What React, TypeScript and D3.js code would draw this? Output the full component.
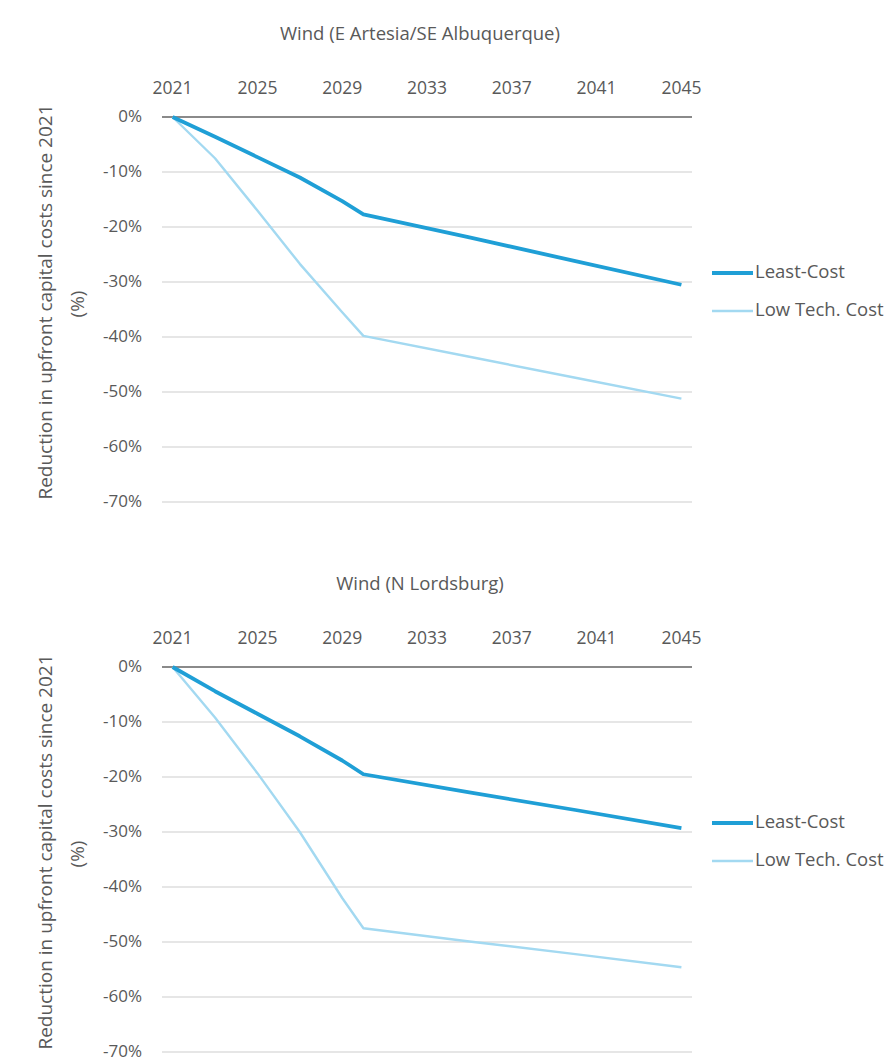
import React from 'react';
import * as d3 from 'd3';

const years = [2021, 2023, 2025, 2027, 2029, 2030, 2035, 2040, 2045];
const tickYears = [2021, 2025, 2029, 2033, 2037, 2041, 2045];
const yTicks = [0, -10, -20, -30, -40, -50, -60, -70];

const artesiaLeastCost = [0, -3.6, -7.3, -11.0, -15.3, -17.7, -21.9, -26.2, -30.5];
const artesiaLowTech = [0, -7.5, -17.0, -26.7, -35.5, -39.8, -43.6, -47.4, -51.2];
const lordsburgLeastCost = [0, -4.4, -8.5, -12.6, -17.0, -19.5, -22.8, -26.0, -29.3];
const lordsburgLowTech = [0, -9.2, -19.3, -30.0, -42.0, -47.5, -49.9, -52.2, -54.6];

const seriesNames = ['Least-Cost', 'Low Tech. Cost'];
const seriesColors = ['#1f9fd6', '#a3d9f1'];
const seriesWidths = [3.8, 2.4];

const FONT = "'Open Sans', sans-serif";
const TEXT = '#595959';

interface PanelProps {
    top: number;
    title: string;
    series: number[][];
}

const Panel: React.FC<PanelProps> = ({ top, title, series }) => {
    const x = d3.scaleLinear().domain([2020.5, 2045.5]).range([162, 692]);
    const y = d3.scaleLinear().domain([0, -70]).range([top + 117, top + 502]);

    const line = d3.line<number>()
        .x((_, i) => x(years[i]))
        .y(d => y(d));

    return (
        <g>
            <text x={420} y={top + 35} textAnchor="middle" dominantBaseline="middle"
                fontSize={18.5} fill={TEXT} fontFamily={FONT}>{title}</text>

            {/* gridlines */}
            {yTicks.filter(t => t !== 0).map(t => (
                <line key={t} x1={x.range()[0]} x2={x.range()[1]} y1={y(t)} y2={y(t)}
                    stroke="#dedede" strokeWidth={1.3} />
            ))}
            <line x1={x.range()[0]} x2={x.range()[1]} y1={y(0)} y2={y(0)}
                stroke="#8a8a8a" strokeWidth={1.8} />

            {/* y tick labels */}
            {yTicks.map(t => (
                <text key={t} x={142} y={y(t)} textAnchor="end" dominantBaseline="middle"
                    fontSize={17} fill={TEXT} fontFamily={FONT}>{`${t}%`}</text>
            ))}

            {/* x tick labels (axis on top) */}
            {tickYears.map(t => (
                <text key={t} x={x(t)} y={top + 89} textAnchor="middle" dominantBaseline="middle"
                    fontSize={17.5} fill={TEXT} fontFamily={FONT}>{t}</text>
            ))}

            {/* y axis title */}
            <g transform={`translate(47,${top + 302}) rotate(-90)`}>
                <text textAnchor="middle" dominantBaseline="middle" fontSize={19}
                    fill={TEXT} fontFamily={FONT}>Reduction in upfront capital costs since 2021</text>
            </g>
            <g transform={`translate(79,${top + 304}) rotate(-90)`}>
                <text textAnchor="middle" dominantBaseline="middle" fontSize={19}
                    fill={TEXT} fontFamily={FONT}>(%)</text>
            </g>

            {/* series */}
            {series.map((s, i) => (
                <path key={i} d={line(s) || ''} fill="none" stroke={seriesColors[i]}
                    strokeWidth={seriesWidths[i]} strokeLinejoin="round" />
            )).reverse()}

            {/* legend */}
            {seriesNames.map((name, i) => (
                <g key={name} transform={`translate(712,${top + 273 + i * 38})`}>
                    <line x1={0} x2={41} y1={0} y2={0} stroke={seriesColors[i]}
                        strokeWidth={seriesWidths[i]} />
                    <text x={43} y={0} dominantBaseline="middle" fontSize={18.5}
                        fill={TEXT} fontFamily={FONT}>{name}</text>
                </g>
            ))}
        </g>
    );
};

export default function App() {
    return (
        <svg width={896} height={1061} style={{ position: 'absolute', left: 0, top: 0, background: '#fff' }}>
            <Panel top={0} title="Wind (E Artesia/SE Albuquerque)"
                series={[artesiaLeastCost, artesiaLowTech]} />
            <Panel top={550} title="Wind (N Lordsburg)"
                series={[lordsburgLeastCost, lordsburgLowTech]} />
        </svg>
    );
}
